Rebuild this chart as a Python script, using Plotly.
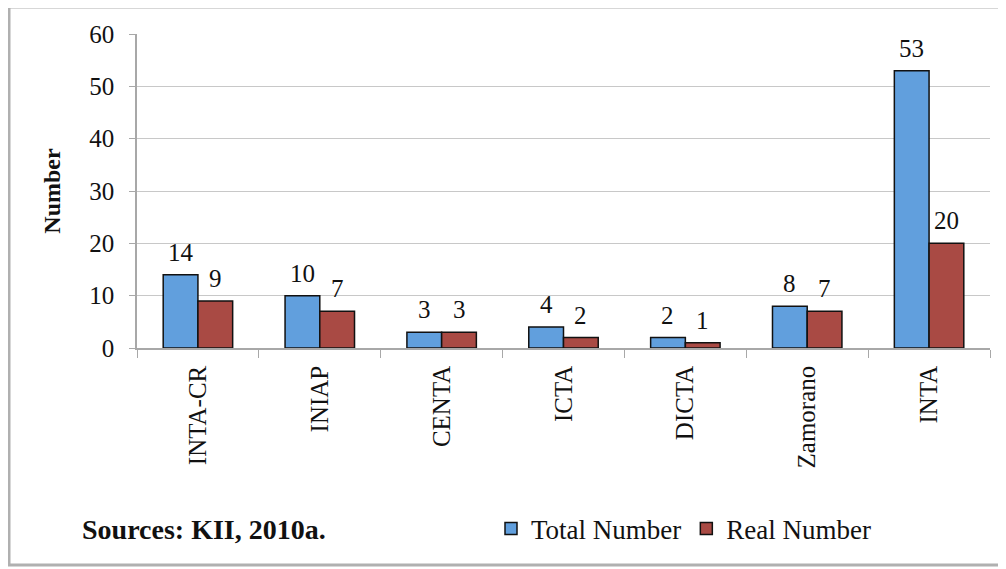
import plotly.graph_objects as go

categories = ["INTA-CR", "INIAP", "CENTA", "ICTA", "DICTA", "Zamorano", "INTA"]
total_number = [14, 10, 3, 4, 2, 8, 53]
real_number = [9, 7, 3, 2, 1, 7, 20]
y_ticks = [0, 10, 20, 30, 40, 50, 60]

FONT = "Liberation Serif"
TXT = "#111111"

fig = go.Figure()
fig.add_trace(go.Bar(
    x=categories, y=total_number, name="Total Number",
    marker=dict(color="#619fdd", line=dict(color="#111111", width=1.5)),
))
fig.add_trace(go.Bar(
    x=categories, y=real_number, name="Real Number",
    marker=dict(color="#a94a44", line=dict(color="#111111", width=1.5)),
))

# page body has an 8px margin; work in reference pixel coords and shift
OFF = 8
W, H = 1006 - OFF, 569 - OFF
# plot area in reference coords: x 137..990, y 34..348
PL, PR, PT, PB = 137, 990, 34, 348
L, T = PL - OFF, PT - OFF
R = W - (PR - OFF)
B = H - (PB - OFF)
pw, ph = PR - PL, PB - PT
BARGAP = 0.43
half_bar = pw / len(categories) * (1 - BARGAP) / 4

def px(x):
    return (x - PL) / pw

def py(y):
    return (PB - y) / ph

annotations = []
for series, sign in ((total_number, -1), (real_number, 1)):
    for cat, v in zip(categories, series):
        annotations.append(dict(
            x=cat, y=v, xref="x", yref="y", text=str(v), showarrow=False,
            xanchor="center", yanchor="bottom", xshift=sign * half_bar, yshift=7,
            font=dict(family=FONT, size=25, color=TXT),
        ))
annotations.append(dict(
    text="<b>Sources: KII, 2010a.</b>", xref="paper", yref="paper",
    x=px(80), y=py(529), xanchor="left", yanchor="middle", showarrow=False,
    font=dict(family=FONT, size=28, color=TXT),
))

fig.update_layout(
    width=W, height=H,
    margin=dict(l=L, r=R, t=T, b=B, autoexpand=False),
    paper_bgcolor="white", plot_bgcolor="white",
    barmode="group", bargap=BARGAP, bargroupgap=0,
    font=dict(family=FONT, size=25, color=TXT),
    showlegend=True,
    legend=dict(orientation="h", x=px(491), y=py(529), xanchor="left", yanchor="middle",
                font=dict(family=FONT, size=27, color=TXT),
                itemwidth=30, traceorder="normal", bgcolor="rgba(0,0,0,0)"),
    xaxis=dict(
        tickangle=-90, tickfont=dict(family=FONT, size=25, color=TXT),
        showline=True, linecolor="#a8a8a8", linewidth=1.5,
        ticks="outside", tickson="boundaries", ticklen=8, tickcolor="#a8a8a8",
        ticklabelstandoff=6,
        showgrid=False,
    ),
    yaxis=dict(
        range=[0, 60], tickvals=y_ticks,
        tickfont=dict(family=FONT, size=25, color=TXT),
        showline=True, linecolor="#a8a8a8", linewidth=1.5,
        ticks="outside", ticklen=6, tickcolor="#a8a8a8",
        ticklabelstandoff=10,
        showgrid=True, gridcolor="#c8c8c8", gridwidth=1.2,
        zeroline=False,
        title=dict(text="<b>Number</b>", font=dict(family=FONT, size=24, color=TXT), standoff=22),
    ),
    annotations=annotations,
    shapes=[dict(
        type="rect", xref="paper", yref="paper",
        x0=px(9), x1=px(1000), y0=py(565), y1=py(7),
        line=dict(color="#b0b0b0", width=3), fillcolor="rgba(0,0,0,0)", layer="below",
    )],
)

fig.write_html("out.html")
